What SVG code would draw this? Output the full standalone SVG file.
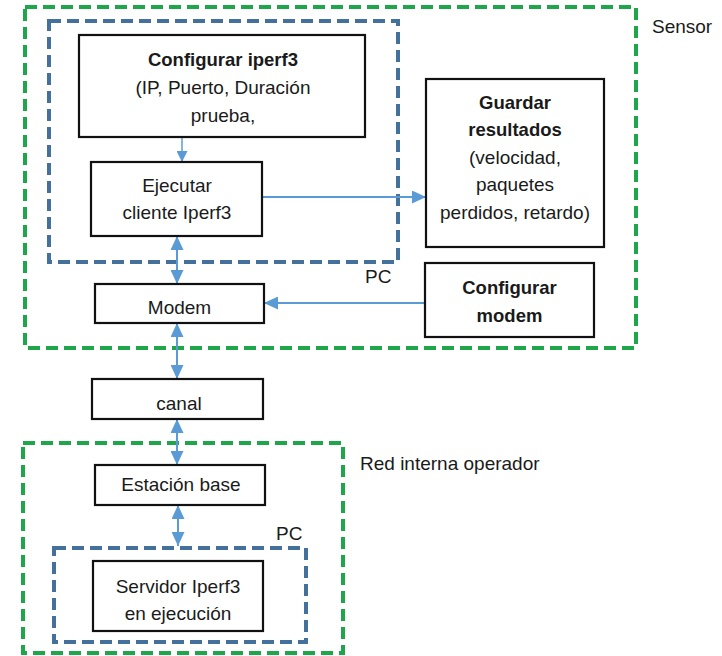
<svg xmlns="http://www.w3.org/2000/svg" width="722" height="656" viewBox="0 0 722 656">
<defs>
<style>
.bg{fill:#fff}
.grp-g{fill:none;stroke:#1fa64a;stroke-width:4;stroke-dasharray:12 6}
.grp-b{fill:none;stroke:#44719c;stroke-width:4;stroke-dasharray:12 6}
.box{fill:#fff;stroke:#111;stroke-width:2.2}
.t{font-family:"Liberation Sans",Arial,sans-serif;font-size:19px;fill:#1a1a1a;text-anchor:middle}
.b{font-weight:bold;font-size:18.5px}
.lbl{font-family:"Liberation Sans",Arial,sans-serif;font-size:19px;fill:#1a1a1a}
.c{stroke:#5b9bd5;stroke-width:2;fill:none}
</style>
<marker id="ah" markerWidth="14" markerHeight="13" refX="10" refY="5" orient="auto-start-reverse" markerUnits="userSpaceOnUse" viewBox="0 0 10 10" preserveAspectRatio="none">
<path d="M0,0 L10,5 L0,10 z" fill="#5b9bd5"/>
</marker>
<marker id="ahs" markerWidth="11" markerHeight="11" refX="10" refY="5" orient="auto" markerUnits="userSpaceOnUse" viewBox="0 0 10 10">
<path d="M0,0 L10,5 L0,10 z" fill="#5b9bd5"/>
</marker>
</defs>
<rect class="bg" x="0" y="0" width="722" height="656"/>

<g id="sensor">
<rect class="grp-g" x="25" y="7" width="611" height="341"/>
<text class="lbl" x="652" y="33">Sensor</text>
</g>
<g id="pc1">
<rect class="grp-b" x="49" y="21" width="349" height="241"/>
<text class="lbl" x="365" y="283">PC</text>
</g>
<g id="red">
<rect class="grp-g" x="23" y="443" width="320" height="210"/>
<text class="lbl" x="360" y="470">Red interna operador</text>
</g>
<g id="pc2">
<rect class="grp-b" x="54" y="548" width="252" height="94"/>
<text class="lbl" x="276" y="540">PC</text>
</g>

<g id="connectors">
<line class="c" x1="182" y1="137" x2="182" y2="162" marker-end="url(#ahs)" style="stroke-width:1.5"/>
<line class="c" x1="262" y1="197" x2="426" y2="197" marker-end="url(#ah)"/>
<line class="c" x1="177" y1="236" x2="177" y2="284" marker-start="url(#ah)" marker-end="url(#ah)"/>
<line class="c" x1="425" y1="303" x2="264" y2="303" marker-end="url(#ah)"/>
<line class="c" x1="177" y1="323" x2="177" y2="379" marker-start="url(#ah)" marker-end="url(#ah)"/>
<line class="c" x1="177" y1="419" x2="177" y2="465" marker-start="url(#ah)" marker-end="url(#ah)"/>
<line class="c" x1="178" y1="505" x2="178" y2="546" marker-start="url(#ah)" marker-end="url(#ah)"/>
</g>

<g id="configurar-iperf3">
<rect class="box" x="79" y="35" width="286" height="102"/>
<text class="t b" x="223" y="65.5">Configurar iperf3</text>
<text class="t" x="223" y="93.5">(IP, Puerto, Duración</text>
<text class="t" x="223" y="121.5">prueba,</text>
</g>
<g id="ejecutar">
<rect class="box" x="91" y="162" width="171" height="74"/>
<text class="t" x="177" y="191.5">Ejecutar</text>
<text class="t" x="177" y="218.5">cliente Iperf3</text>
</g>
<g id="guardar">
<rect class="box" x="426" y="79" width="178" height="168"/>
<text class="t b" x="515" y="108.5">Guardar</text>
<text class="t b" x="515" y="136">resultados</text>
<text class="t" x="515" y="163.5">(velocidad,</text>
<text class="t" x="515" y="191">paquetes</text>
<text class="t" x="515" y="218.5">perdidos, retardo)</text>
</g>
<g id="configurar-modem">
<rect class="box" x="425" y="263" width="169" height="74"/>
<text class="t b" x="509.5" y="293.5">Configurar</text>
<text class="t b" x="509.5" y="321.5">modem</text>
</g>
<g id="modem">
<rect class="box" x="95" y="284" width="169" height="39"/>
<text class="t" x="179.5" y="313.5">Modem</text>
</g>
<g id="canal">
<rect class="box" x="92" y="379" width="171" height="40"/>
<text class="t" x="179" y="409.5">canal</text>
</g>
<g id="estacion-base">
<rect class="box" x="95" y="465" width="170" height="40"/>
<text class="t" x="181" y="490.5">Estación base</text>
</g>
<g id="servidor">
<rect class="box" x="93" y="561" width="170" height="70"/>
<text class="t" x="178" y="592.5">Servidor Iperf3</text>
<text class="t" x="178" y="619.5">en ejecución</text>
</g>
</svg>
